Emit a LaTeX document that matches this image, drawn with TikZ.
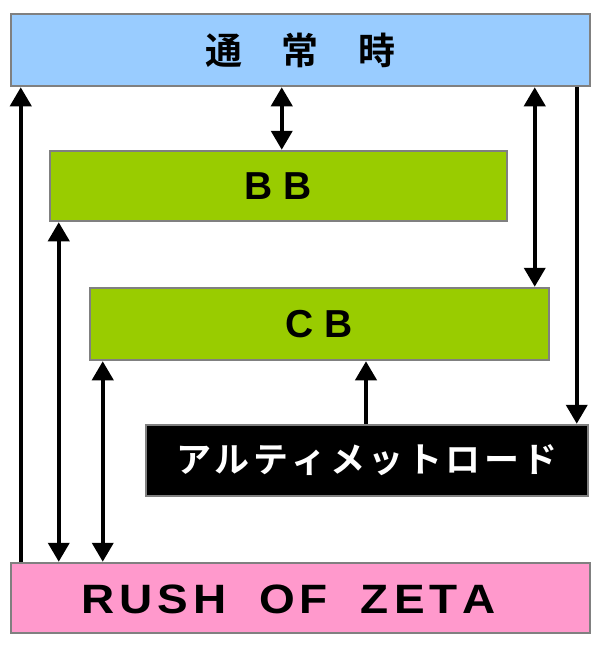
\documentclass[tikz,border=0pt]{standalone}
\usepackage{fontspec}
\setmainfont{Liberation Sans}
\newfontfamily\jp{Noto Sans CJK JP}[UprightFont=*, BoldFont=* Bold]
\newfontfamily\wide{Liberation Sans}[FakeStretch=1.12]
\usetikzlibrary{arrows.meta}
\definecolor{topblue}{HTML}{99CCFF}
\definecolor{boxgreen}{HTML}{99CC00}
\definecolor{rushpink}{HTML}{FF99CC}
\definecolor{bordergray}{HTML}{808080}
\tikzset{
  panel/.style={draw=bordergray, line width=2.5pt, inner sep=0pt, anchor=center},
  arr/.style={line width=4pt, -{Triangle[length=19pt,width=21pt]}},
  darr/.style={line width=4pt, {Triangle[length=19pt,width=21pt]}-{Triangle[length=19pt,width=21pt]}},
}
\begin{document}
\begin{tikzpicture}[x=1pt,y=-1pt]
\useasboundingbox[fill=white] (0,0) rectangle (600,646);
\node[panel, fill=topblue, minimum width=579pt, minimum height=72pt] (top) at (300.5,50)
  {\jp\bfseries\fontsize{37}{37}\selectfont 通\kern40pt 常\kern40pt 時};
\node[panel, fill=boxgreen, minimum width=457pt, minimum height=70pt] (bb) at (278.5,186)
  {\bfseries\fontsize{39}{39}\selectfont B B};
\node[panel, fill=boxgreen, minimum width=459pt, minimum height=72pt] (cb) at (319.5,324)
  {\bfseries\fontsize{39}{39}\selectfont C B};
\node[panel, fill=black, text=white, minimum width=442pt, minimum height=71pt] (ult) at (367,460.5)
  {\jp\bfseries\fontsize{35}{35}\selectfont ア\kern3.5pt ル\kern3.5pt テ\kern3.5pt ィ\kern3.5pt メ\kern3.5pt ッ\kern3.5pt ト\kern3.5pt ロ\kern3.5pt ー\kern3.5pt ド};
\node[panel, fill=rushpink, minimum width=579pt, minimum height=70pt] (rush) at (300.5,598) {};
\node (rushtext) at (288.5,599)
  {\wide\bfseries\fontsize{41}{41}\selectfont R\kern5pt U\kern5pt S\kern5pt H\kern33pt O\kern5pt F\kern33pt Z\kern5pt E\kern5pt T\kern5pt A};
% arrows
\draw[arr] ([xshift=11pt]rush.north west) -- ([xshift=11pt]top.south west);
\draw[darr] ([xshift=10pt]bb.south west) -- ([xshift=49pt]rush.north west);
\draw[darr] ([xshift=14pt]cb.south west) -- ([xshift=93pt]rush.north west);
\draw[darr] ([xshift=272pt]top.south west) -- ([xshift=233pt]bb.north west);
\draw[darr] ([xshift=525pt]top.south west) -- ([xshift=446pt]cb.north west);
\draw[arr] ([xshift=567pt]top.south west) -- ([xshift=432pt]ult.north west);
\coordinate (ub) at ([xshift=-1pt]ult.north);
\coordinate (uc) at ([xshift=-1pt]ult.north |- cb.south);
\draw[arr] (ub) -- (uc);
\end{tikzpicture}
\end{document}
